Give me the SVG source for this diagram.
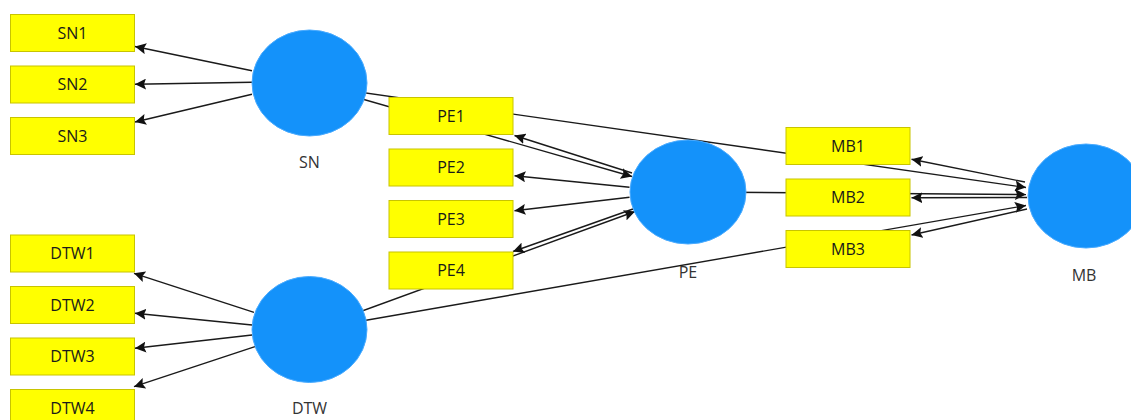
<svg xmlns="http://www.w3.org/2000/svg" width="1131" height="420" viewBox="0 0 1131 420">
<style>
.ind rect{fill:#FFFF00;stroke:#C8C400;stroke-width:1}
.ind text{font-family:"Open Sans","Noto Sans",sans-serif;font-size:16px;fill:#1a1a1a;text-anchor:middle}
.lat ellipse{fill:#1492FA;stroke:#4AABFF;stroke-width:1}
.lat text{font-family:"Open Sans","Noto Sans",sans-serif;font-size:16px;fill:#333;text-anchor:middle}
#connectors line{stroke:#1a1a1a;stroke-width:1.4;fill:none;marker-end:url(#ah)}
</style>
<defs>
<marker id="ah" viewBox="0 0 11 11" refX="11" refY="5.5" markerWidth="11" markerHeight="11" markerUnits="userSpaceOnUse" orient="auto">
<path d="M0,0 L11,5.5 L0,11 L2,5.5 z" fill="#111"/>
</marker>
</defs>
<rect width="1131" height="420" fill="#fff"/>
<g id="connectors">
<line x1="310" y1="84" x2="632" y2="176.5"/>
<line x1="310" y1="85" x2="1026" y2="187.5"/>
<line x1="688" y1="192" x2="1026" y2="194.5"/>
<line x1="310" y1="330" x2="635" y2="211.5"/>
<line x1="310" y1="330" x2="1026" y2="205.5"/>
<line x1="252" y1="70.7" x2="135" y2="46.5"/>
<line x1="252" y1="82.3" x2="135" y2="84.3"/>
<line x1="252" y1="94.3" x2="135" y2="122"/>
<line x1="254" y1="312.3" x2="134" y2="273.3"/>
<line x1="252" y1="325" x2="135" y2="313.3"/>
<line x1="252" y1="335" x2="135" y2="348.3"/>
<line x1="255" y1="346.7" x2="134" y2="386.7"/>
<line x1="632" y1="173" x2="514.5" y2="135.5"/>
<line x1="629.5" y1="187.3" x2="514.5" y2="175.7"/>
<line x1="629.5" y1="197.3" x2="514.5" y2="210.7"/>
<line x1="633" y1="209" x2="513" y2="251.5"/>
<line x1="1025" y1="182" x2="911.5" y2="159.3"/>
<line x1="1027" y1="197.5" x2="911.5" y2="197.8"/>
<line x1="1027" y1="209" x2="911.5" y2="235"/>
</g>
<g id="SN1" class="ind"><rect x="10.5" y="14.5" width="124" height="37"/><text x="72.5" y="38.5">SN1</text></g>
<g id="SN2" class="ind"><rect x="10.5" y="66" width="124" height="37"/><text x="72.5" y="90">SN2</text></g>
<g id="SN3" class="ind"><rect x="10.5" y="117.5" width="124" height="37"/><text x="72.5" y="141.5">SN3</text></g>
<g id="DTW1" class="ind"><rect x="10.5" y="235" width="124" height="37"/><text x="72.5" y="259">DTW1</text></g>
<g id="DTW2" class="ind"><rect x="10.5" y="286.5" width="124" height="37"/><text x="72.5" y="310.5">DTW2</text></g>
<g id="DTW3" class="ind"><rect x="10.5" y="338" width="124" height="37"/><text x="72.5" y="362">DTW3</text></g>
<g id="DTW4" class="ind"><rect x="10.5" y="389.5" width="124" height="37"/><text x="72.5" y="413.5">DTW4</text></g>
<g id="PE1" class="ind"><rect x="389" y="97.5" width="124" height="37"/><text x="451" y="121.5">PE1</text></g>
<g id="PE2" class="ind"><rect x="389" y="149" width="124" height="37"/><text x="451" y="173">PE2</text></g>
<g id="PE3" class="ind"><rect x="389" y="200.5" width="124" height="37"/><text x="451" y="224.5">PE3</text></g>
<g id="PE4" class="ind"><rect x="389" y="252" width="124" height="37"/><text x="451" y="276">PE4</text></g>
<g id="MB1" class="ind"><rect x="786" y="127.5" width="124" height="37"/><text x="848" y="151.5">MB1</text></g>
<g id="MB2" class="ind"><rect x="786" y="179" width="124" height="37"/><text x="848" y="203">MB2</text></g>
<g id="MB3" class="ind"><rect x="786" y="230.5" width="124" height="37"/><text x="848" y="254.5">MB3</text></g>
<g id="SN" class="lat"><ellipse cx="309.5" cy="83" rx="57.5" ry="53"/><text x="309.5" y="168">SN</text></g>
<g id="DTW" class="lat"><ellipse cx="309.5" cy="329.5" rx="57.5" ry="53"/><text x="309.5" y="414">DTW</text></g>
<g id="PE" class="lat"><ellipse cx="688" cy="192" rx="58" ry="52"/><text x="688" y="278">PE</text></g>
<g id="MB" class="lat"><ellipse cx="1086" cy="196" rx="58" ry="52"/><text x="1084" y="281">MB</text></g>
</svg>
